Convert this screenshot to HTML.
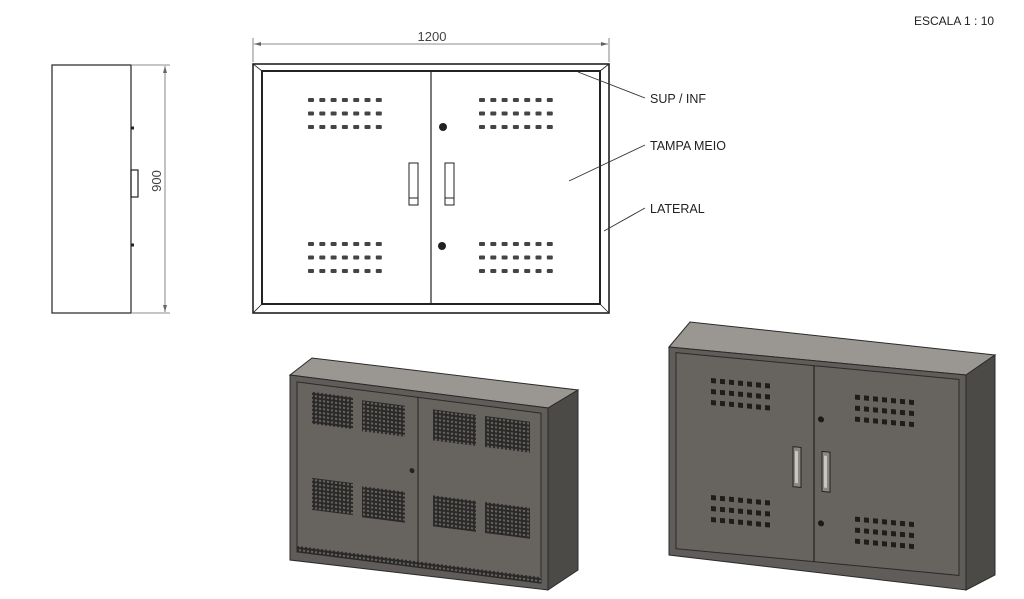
<!DOCTYPE html>
<html><head><meta charset="utf-8"><style>
html,body{margin:0;padding:0;background:#fff;}
svg{display:block;font-family:"Liberation Sans",sans-serif;}
</style></head><body>
<svg width="1024" height="599" viewBox="0 0 1024 599" xmlns="http://www.w3.org/2000/svg">
<defs>
<pattern id="mesh" width="4" height="4" patternUnits="userSpaceOnUse">
<rect width="4" height="4" fill="#2a2928"/><rect x="1" y="1" width="2" height="2" fill="#6a6764"/>
</pattern>
<g id="rowF" fill="#444">
<rect x="0" y="0" width="6" height="4" rx="1"/><rect x="11.3" y="0" width="6" height="4" rx="1"/><rect x="22.6" y="0" width="6" height="4" rx="1"/><rect x="33.9" y="0" width="6" height="4" rx="1"/><rect x="45.2" y="0" width="6" height="4" rx="1"/><rect x="56.5" y="0" width="6" height="4" rx="1"/><rect x="67.8" y="0" width="6" height="4" rx="1"/>
</g>
<g id="blkF"><use href="#rowF"/><use href="#rowF" y="13.5"/><use href="#rowF" y="27"/></g>
<g id="rowI" fill="#1e1d1c">
<rect x="0" y="0" width="5" height="5"/><rect x="9" y="0" width="5" height="5"/><rect x="18" y="0" width="5" height="5"/><rect x="27" y="0" width="5" height="5"/><rect x="36" y="0" width="5" height="5"/><rect x="45" y="0" width="5" height="5"/><rect x="54" y="0" width="5" height="5"/>
</g>
<g id="blkI"><use href="#rowI"/><use href="#rowI" y="11"/><use href="#rowI" y="22"/></g>
</defs>
<text x="914" y="25" font-size="12" fill="#222">ESCALA 1 : 10</text>

<!-- side view -->
<g stroke="#222" fill="none" stroke-width="1.2">
<rect x="52" y="65" width="79" height="248"/>
<rect x="131" y="170" width="7" height="27"/>
<line x1="131" y1="128" x2="134" y2="128" stroke-width="3"/>
<line x1="131" y1="245" x2="134" y2="245" stroke-width="3"/>
</g>
<g stroke="#666" stroke-width="0.8">
<line x1="132" y1="65" x2="170" y2="65"/><line x1="132" y1="313" x2="170" y2="313"/>
<line x1="165" y1="66" x2="165" y2="312"/>
<line x1="253" y1="38" x2="253" y2="62"/><line x1="609" y1="38" x2="609" y2="62"/>
<line x1="254" y1="44" x2="608" y2="44"/>
</g>
<path d="M165 66 l-2 7 h4z M165 312 l-2 -7 h4z M254 44 l7 -2 v4z M608 44 l-7 -2 v4z" fill="#666"/>
<text x="432" y="41" font-size="13" fill="#444" text-anchor="middle">1200</text>
<text transform="translate(161,181) rotate(-90)" font-size="13" fill="#444" text-anchor="middle">900</text>

<!-- front view -->
<g stroke="#222" fill="none">
<rect x="253" y="64" width="356" height="249" stroke-width="1.6"/>
<rect x="262" y="71" width="338" height="233" stroke-width="2"/>
<line x1="253" y1="64" x2="262" y2="71" stroke-width="0.8"/><line x1="609" y1="64" x2="600" y2="71" stroke-width="0.8"/>
<line x1="253" y1="313" x2="262" y2="304" stroke-width="0.8"/><line x1="609" y1="313" x2="600" y2="304" stroke-width="0.8"/>
<line x1="431" y1="71" x2="431" y2="304" stroke-width="1.2"/>
<rect x="409" y="163" width="9" height="42" stroke-width="1"/><line x1="409" y1="198" x2="418" y2="198"/>
<rect x="445" y="163" width="9" height="42" stroke-width="1"/><line x1="445" y1="198" x2="454" y2="198"/>
</g>
<circle cx="443" cy="127" r="4" fill="#222"/><circle cx="442" cy="246" r="4" fill="#222"/>
<use href="#blkF" x="308" y="98"/>
<use href="#blkF" x="479" y="98"/>
<use href="#blkF" x="308" y="242"/>
<use href="#blkF" x="479" y="242"/>
<g stroke="#333" stroke-width="0.9">
<line x1="578" y1="72" x2="645" y2="98"/><line x1="569" y1="181" x2="645" y2="145"/><line x1="604" y1="231" x2="645" y2="208"/>
</g>
<g font-size="12.5" fill="#222">
<text x="650" y="103">SUP / INF</text><text x="650" y="150">TAMPA MEIO</text><text x="650" y="213">LATERAL</text>
</g>

<!-- iso left -->
<g stroke="#2a2a2a" stroke-width="1">
<polygon points="290,375 312,358 578,390 548,408" fill="#9a9792"/>
<polygon points="548,408 578,390 578,570 548,590" fill="#4c4a47"/>
<polygon points="290,375 548,408 548,590 290,560" fill="#5f5c59"/>
</g>
<g transform="translate(290,375) skewY(7.3)">
<rect x="7" y="6" width="244" height="170" fill="#67645f" stroke="#2a2a2a"/>
<line x1="128" y1="6" x2="128" y2="170" stroke="#222"/>
<rect x="7" y="170" width="244" height="6" fill="url(#mesh)"/>
<rect x="22" y="14" width="41" height="32" fill="url(#mesh)"/>
<rect x="72" y="16" width="43" height="31" fill="url(#mesh)"/>
<rect x="143" y="16" width="43" height="31" fill="url(#mesh)"/>
<rect x="195" y="16" width="45" height="31" fill="url(#mesh)"/>
<rect x="22" y="100" width="41" height="32" fill="url(#mesh)"/>
<rect x="72" y="102" width="43" height="31" fill="url(#mesh)"/>
<rect x="143" y="102" width="43" height="31" fill="url(#mesh)"/>
<rect x="195" y="102" width="45" height="31" fill="url(#mesh)"/>
<circle cx="122" cy="80" r="2.5" fill="#222"/>
</g>

<!-- iso right -->
<g stroke="#2a2a2a" stroke-width="1">
<polygon points="669,347 690,322 995,355 966,375" fill="#9a9792"/>
<polygon points="966,375 995,355 995,575 966,590" fill="#4c4a47"/>
<polygon points="669,347 966,375 966,590 669,555" fill="#5f5c59"/>
</g>
<g transform="translate(669,347) skewY(5.4)">
<rect x="7" y="5" width="283" height="196" fill="#67645f" stroke="#2a2a2a"/>
<line x1="145" y1="5" x2="145" y2="201" stroke="#222" stroke-width="1.2"/>
<use href="#blkI" x="42" y="27"/>
<use href="#blkI" x="186" y="30"/>
<use href="#blkI" x="42" y="144"/>
<use href="#blkI" x="186" y="152"/>
<rect x="124" y="88" width="8" height="40" fill="#8a8782" stroke="#222"/>
<rect x="126" y="92" width="3" height="32" fill="#c8c5c0"/>
<rect x="153" y="90" width="8" height="40" fill="#8a8782" stroke="#222"/>
<rect x="155" y="94" width="3" height="32" fill="#c8c5c0"/>
<circle cx="152" cy="58" r="3" fill="#1a1a1a"/><circle cx="152" cy="162" r="3" fill="#1a1a1a"/>
</g>
</svg>
</body></html>
